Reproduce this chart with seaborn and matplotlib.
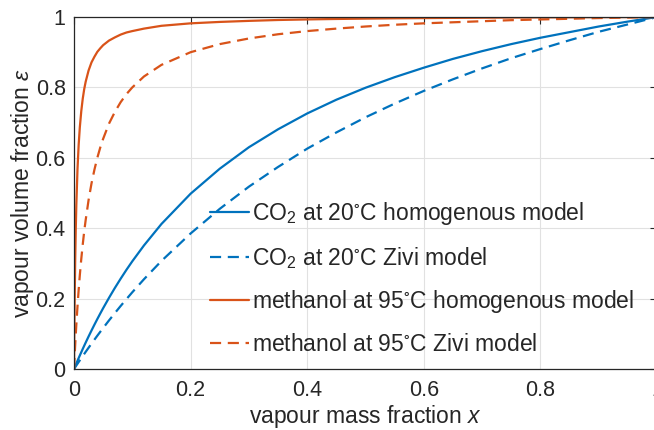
import matplotlib
matplotlib.use("Agg")
import matplotlib.pyplot as plt
import seaborn as sns
import pandas as pd

# Vapour mass fraction (shared sample points for all four curves)
x_mass = [0, 0.0005, 0.001, 0.002, 0.003, 0.004, 0.006, 0.008, 0.01, 0.0125,
          0.015, 0.0175, 0.02, 0.025, 0.03, 0.035, 0.04, 0.045, 0.05, 0.06,
          0.07, 0.08, 0.09, 0.1, 0.12, 0.15, 0.2, 0.25, 0.3, 0.35, 0.4, 0.45,
          0.5, 0.55, 0.6, 0.65, 0.7, 0.75, 0.8, 0.85, 0.9, 0.95, 1.0]

# Vapour volume fraction for each fluid / void-fraction model
co2_homogeneous = [0, 0.0020, 0.0040, 0.0079, 0.0118, 0.0157, 0.0234, 0.0310,
                   0.0385, 0.0478, 0.0570, 0.0660, 0.0749, 0.0924, 0.1093,
                   0.1258, 0.1419, 0.1575, 0.1728, 0.2021, 0.2300, 0.2565,
                   0.2819, 0.306, 0.351, 0.412, 0.498, 0.569, 0.630, 0.681,
                   0.726, 0.765, 0.799, 0.829, 0.856, 0.881, 0.903, 0.923,
                   0.941, 0.957, 0.973, 0.987, 1.0]
co2_zivi = [0, 0.0013, 0.0025, 0.0050, 0.0075, 0.0100, 0.0149, 0.0198, 0.0247,
            0.0308, 0.0368, 0.0427, 0.0487, 0.0604, 0.0719, 0.0833, 0.0946,
            0.1056, 0.1165, 0.1379, 0.1587, 0.179, 0.1986, 0.218, 0.255, 0.307,
            0.385, 0.455, 0.518, 0.574, 0.626, 0.672, 0.715, 0.754, 0.790,
            0.823, 0.854, 0.883, 0.909, 0.934, 0.958, 0.979, 1.0]
methanol_homogeneous = [0, 0.098, 0.179, 0.303, 0.395, 0.466, 0.568, 0.637,
                        0.687, 0.733, 0.768, 0.795, 0.816, 0.848, 0.871, 0.887,
                        0.901, 0.911, 0.920, 0.933, 0.942, 0.950, 0.956, 0.960,
                        0.967, 0.975, 0.982, 0.986, 0.989, 0.9915, 0.9931,
                        0.9944, 0.9954, 0.9963, 0.9969, 0.9975, 0.998, 0.9985,
                        0.9989, 0.9992, 0.9995, 0.9998, 1.0]
methanol_zivi = [0, 0.0177, 0.0348, 0.0672, 0.0977, 0.126, 0.178, 0.225, 0.267,
                 0.313, 0.354, 0.391, 0.423, 0.480, 0.527, 0.566, 0.600, 0.629,
                 0.654, 0.697, 0.730, 0.758, 0.781, 0.800, 0.831, 0.864, 0.900,
                 0.923, 0.939, 0.951, 0.960, 0.967, 0.973, 0.978, 0.982, 0.985,
                 0.988, 0.991, 0.993, 0.995, 0.997, 0.9985, 1.0]

series_labels = [
    r"CO$_2$ at 20$^{\circ}$C homogenous model",
    r"CO$_2$ at 20$^{\circ}$C Zivi model",
    r"methanol at 95$^{\circ}$C homogenous model",
    r"methanol at 95$^{\circ}$C Zivi model",
]
tick_values = [0, 0.2, 0.4, 0.6, 0.8, 1]
tick_labels = ["0", "0.2", "0.4", "0.6", "0.8", "1"]

BLUE = "#0072BD"
ORANGE = "#D95319"
AX_COLOR = "#262626"

sns.set_theme(style="white")
plt.rcParams["font.family"] = ["Liberation Sans", "DejaVu Sans"]
plt.rcParams["mathtext.fontset"] = "custom"
plt.rcParams["mathtext.rm"] = "Liberation Sans"
plt.rcParams["mathtext.it"] = "Liberation Sans:italic"
plt.rcParams["mathtext.fallback"] = "stix"

fig = plt.figure(figsize=(6.54, 4.30), dpi=100)
ax = fig.add_axes([74 / 654, 61 / 430, 583 / 654, 352 / 430])

curves = [
    (co2_homogeneous, BLUE, "-"),
    (co2_zivi, BLUE, "--"),
    (methanol_homogeneous, ORANGE, "-"),
    (methanol_zivi, ORANGE, "--"),
]
for (vals, color, ls), label in zip(curves, series_labels):
    df = pd.DataFrame({"x": x_mass, "eps": vals})
    sns.lineplot(data=df, x="x", y="eps", ax=ax, color=color, linestyle=ls,
                 linewidth=1.6, label=label, legend=False)

for line in ax.get_lines():
    if line.get_linestyle() == "--":
        line.set_dashes((5, 3))

ax.set_xlim(0, 1)
ax.set_ylim(0, 1)
ax.set_xticks(tick_values)
ax.set_xticklabels(tick_labels)
ax.set_yticks(tick_values)
ax.set_yticklabels(tick_labels)

ax.grid(True, color="#e1e1e1", linewidth=0.8)
ax.set_axisbelow(True)
for sp in ax.spines.values():
    sp.set_color(AX_COLOR)
    sp.set_linewidth(0.9)
    sp.set_visible(True)
ax.tick_params(direction="in", length=5, width=0.8, colors=AX_COLOR,
               labelsize=15.5, top=True, right=True, pad=6)
ax.tick_params(axis="x", pad=8)

ax.set_xlabel(r"vapour mass fraction $\it{x}$", fontsize=16.5, color=AX_COLOR,
              labelpad=1)
ax.set_ylabel(r"vapour volume fraction $\epsilon$", fontsize=16.5,
              color=AX_COLOR, labelpad=0)

handles = ax.get_lines()
ax.legend(handles=handles, labels=series_labels, frameon=False,
          loc="upper left", bbox_to_anchor=(210 / 654, 1 - 200 / 430),
          bbox_transform=fig.transFigure, fontsize=16.5, borderpad=0,
          handlelength=1.7, handletextpad=0.13, labelspacing=0.77,
          borderaxespad=0)

fig.savefig("out.png", dpi=100)
